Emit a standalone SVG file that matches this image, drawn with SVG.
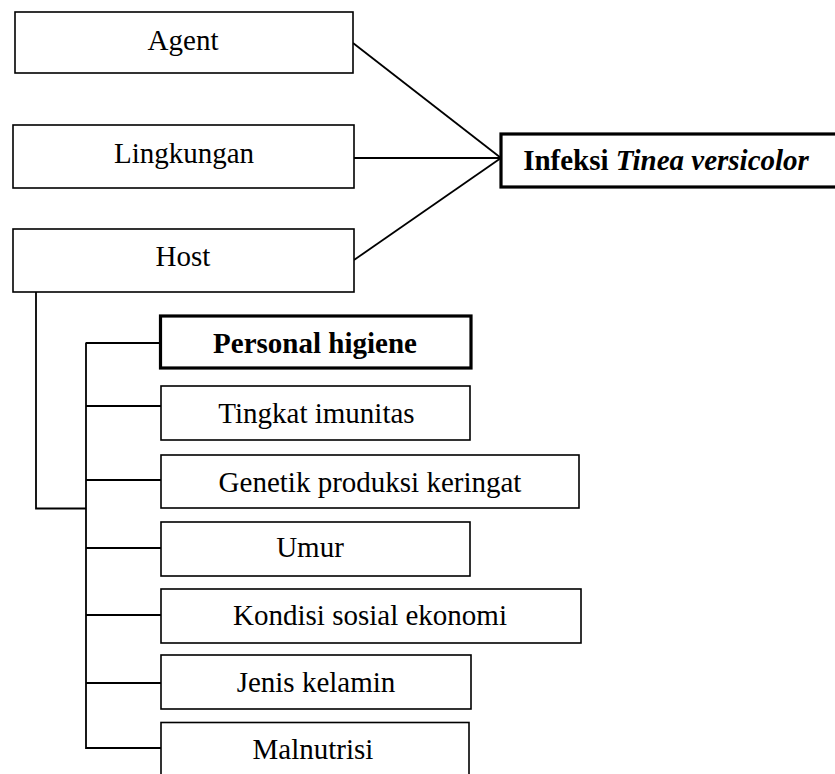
<svg xmlns="http://www.w3.org/2000/svg" width="835" height="774" viewBox="0 0 835 774">
<style>
.b{fill:#fff;stroke:#000;stroke-width:1.6}
.bt{fill:#fff;stroke:#000;stroke-width:3.2}
text{font-size:29px;fill:#000;text-anchor:middle}
.bold{font-weight:bold}
.c{fill:none;stroke:#000;stroke-width:1.8}
</style>
<rect width="835" height="774" fill="#fff"/>
<g id="connectors">
<line class="c" x1="353" y1="43" x2="501" y2="158"/>
<line class="c" x1="352" y1="158" x2="501" y2="158"/>
<line class="c" x1="354" y1="260" x2="501" y2="158"/>
<polyline class="c" points="36,292 36,508.5 86,508.5"/>
<line class="c" x1="86" y1="342.5" x2="86" y2="749"/>
<line class="c" x1="86" y1="343" x2="161" y2="343"/>
<line class="c" x1="86" y1="406" x2="161" y2="406"/>
<line class="c" x1="86" y1="480" x2="161" y2="480"/>
<line class="c" x1="86" y1="548" x2="161" y2="548"/>
<line class="c" x1="86" y1="615" x2="161" y2="615"/>
<line class="c" x1="86" y1="683" x2="161" y2="683"/>
<line class="c" x1="86" y1="748" x2="161" y2="748"/>
</g>
<g font-family="'Liberation Serif', Tinos, 'Times New Roman', Times, serif">
<g id="agent"><rect class="b" x="15" y="12" width="338" height="61"/><text x="183" y="50">Agent</text></g>
<g id="lingkungan"><rect class="b" x="13" y="125" width="341" height="63"/><text x="184" y="163">Lingkungan</text></g>
<g id="host"><rect class="b" x="13" y="229" width="341" height="63"/><text x="183" y="266">Host</text></g>
<g id="infeksi"><rect class="bt" x="501" y="134" width="340" height="53"/><text class="bold" x="666" y="170">Infeksi <tspan font-style="italic">Tinea versicolor</tspan></text></g>
<g id="personal"><rect class="bt" x="160.5" y="316" width="310.5" height="52"/><text class="bold" x="315" y="353">Personal higiene</text></g>
<g id="imunitas"><rect class="b" x="161" y="386" width="309" height="54"/><text x="316.5" y="423">Tingkat imunitas</text></g>
<g id="genetik"><rect class="b" x="161" y="455" width="418" height="53"/><text x="370" y="492">Genetik produksi keringat</text></g>
<g id="umur"><rect class="b" x="161" y="522" width="309" height="54"/><text x="310" y="557">Umur</text></g>
<g id="kondisi"><rect class="b" x="161" y="589" width="420" height="54"/><text x="370" y="625">Kondisi sosial ekonomi</text></g>
<g id="jenis"><rect class="b" x="161" y="655" width="310" height="54"/><text x="316" y="692">Jenis kelamin</text></g>
<g id="malnutrisi"><rect class="b" x="161" y="722.5" width="308" height="70"/><text x="313" y="759">Malnutrisi</text></g>
</g>
</svg>
